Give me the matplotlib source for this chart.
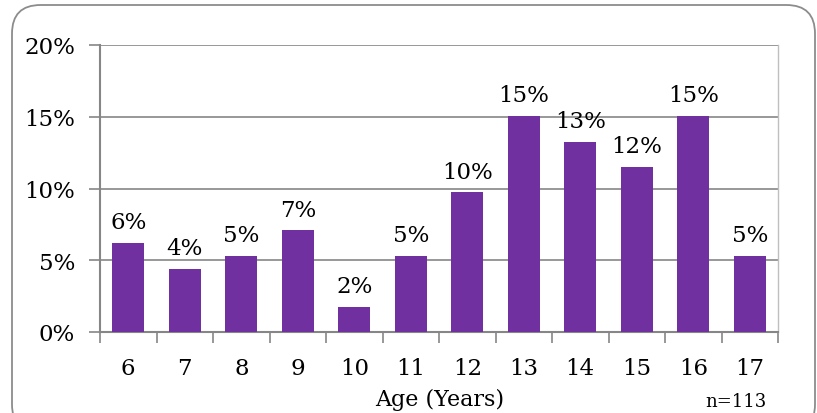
import matplotlib
matplotlib.use("Agg")
import matplotlib.pyplot as plt
from matplotlib.patches import FancyBboxPatch
from matplotlib.ticker import FixedLocator, FuncFormatter

ages = ["6", "7", "8", "9", "10", "11", "12", "13", "14", "15", "16", "17"]
percent = [6.19, 4.42, 5.31, 7.08, 1.77, 5.31, 9.73, 15.04, 13.27, 11.50, 15.04, 5.31]
y_ticks = [0, 5, 10, 15, 20]
sample_note = "n=113"

plt.rcParams["font.family"] = ["DejaVu Serif"]

W, H = 817, 414
fig = plt.figure(figsize=(W / 100, H / 100), dpi=100)

# rounded outer frame
frame = FancyBboxPatch((12 / W, -20 / H), 803 / W, 428 / H,
                       boxstyle="round,pad=0,rounding_size=0.035",
                       transform=fig.transFigure, facecolor="none",
                       edgecolor="#8c8c8c", linewidth=1.3, mutation_aspect=W / H)
fig.patches.append(frame)

left, right, top, bottom = 100, 778, 46, 333
ax = fig.add_axes([left / W, 1 - bottom / H, (right - left) / W, (bottom - top) / H])

x = list(range(len(ages)))
ax.bar(x, percent, width=0.56, color="#7030A0", zorder=3)

FS = 16.5
for xi, v in zip(x, percent):
    ax.annotate(f"{round(v):d}%", (xi, v), xytext=(0, 7), textcoords="offset points",
                ha="center", va="bottom", fontsize=FS, color="black")

ax.set_xlim(-0.5, len(ages) - 0.5)
ax.set_ylim(0, 20)

ax.yaxis.set_major_locator(FixedLocator(y_ticks))
ax.yaxis.set_major_formatter(FuncFormatter(lambda v, p: f"{v:.0f}%"))
ax.grid(axis="y", color="#868686", linewidth=1.2, zorder=0)

ax.set_xticks(x)
ax.set_xticklabels(ages)
ax.xaxis.set_minor_locator(FixedLocator([i - 0.5 for i in range(len(ages) + 1)]))
ax.tick_params(axis="x", which="major", length=0, pad=18, labelsize=FS)
ax.tick_params(axis="x", which="minor", length=8, width=1.2, color="#868686")
ax.tick_params(axis="y", length=8, width=1.2, color="#868686", pad=10, labelsize=FS)

for side in ("left", "bottom"):
    ax.spines[side].set_color("#868686")
    ax.spines[side].set_linewidth(1.5)
ax.spines["top"].set_visible(False)
ax.spines["right"].set_color("#bfbfbf")
ax.spines["right"].set_linewidth(1.0)

fig.text(440 / W, 1 - 400 / H, "Age (Years)", ha="center", va="center", fontsize=16)
fig.text(736 / W, 1 - 402 / H, sample_note, ha="center", va="center", fontsize=13)

fig.savefig("out.png", dpi=100)
